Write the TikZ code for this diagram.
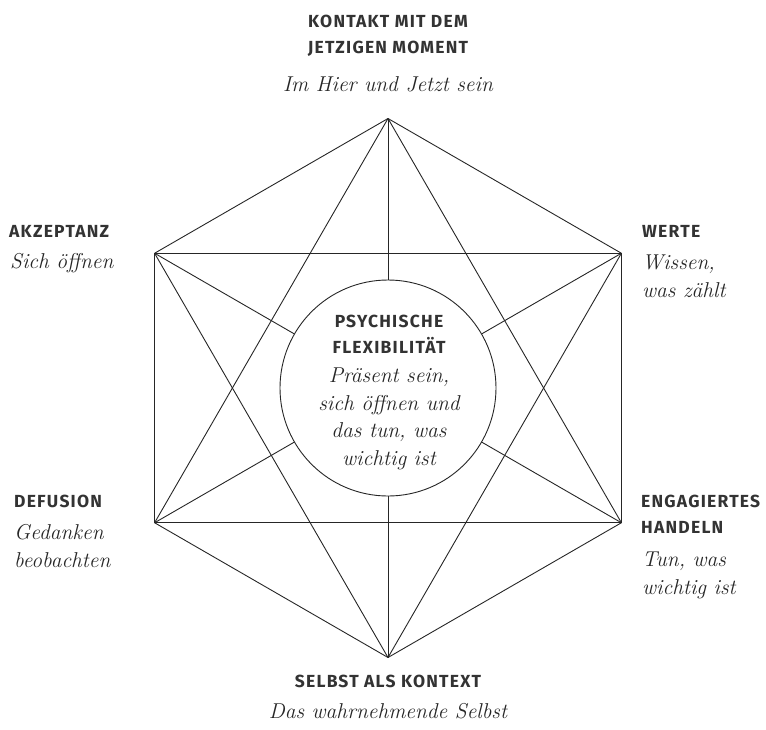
\documentclass[tikz,border=0pt]{standalone}
\usepackage{fontspec}
\newfontfamily\capsfont{Fira Sans}[LetterSpace=7]
\usetikzlibrary{calc,positioning}

\begin{document}
\begin{tikzpicture}[x=1pt, y=-1pt,
    edge/.style={line width=0.9pt, black!85},
    hub/.style={circle, draw=black!85, line width=0.9pt, fill=white,
                minimum size=216pt, inner sep=0pt},
    title/.style={font=\capsfont\bfseries\fontsize{17.5}{26}\selectfont,
                  inner sep=0pt, text=black!80},
    motto/.style={font=\itshape\fontsize{21.5}{27.5}\selectfont,
                  inner sep=0pt, text=black!85}]

  \useasboundingbox (0,0) rectangle (766,729);

  % centre and the six corners of the hexagon
  \coordinate (M) at (388,388);
  \foreach \n/\a in {jetzt/270, werte/330, handeln/30,
                     selbst/90, defusion/150, akzeptanz/210}
    \coordinate (\n) at ($(M)+(\a:269.5)$);

  % every corner joined to every other one
  \foreach \p/\q in {jetzt/werte, werte/handeln, handeln/selbst,
                     selbst/defusion, defusion/akzeptanz, akzeptanz/jetzt,
                     jetzt/handeln, handeln/defusion, defusion/jetzt,
                     werte/selbst, selbst/akzeptanz, akzeptanz/werte,
                     jetzt/selbst, werte/defusion, handeln/akzeptanz}
    \draw[edge] (\p) -- (\q);

  % the circle in the middle (base = last line)
  \node[hub] (kern) at (M) {};
  \node[title, align=center, anchor=base] (kernT) at (389,353)
    {PSYCHISCHE\\FLEXIBILITÄT};
  \node[motto, align=center, anchor=base] (kernM) at (389,465)
    {Präsent sein,\\sich öffnen und\\das tun, was\\wichtig ist};

  % top
  \node[title, align=center, anchor=base] (jetztT) at (388,53)
    {KONTAKT MIT DEM\\JETZIGEN MOMENT};
  \node[motto, anchor=base] (jetztM) at (388,91) {Im Hier und Jetzt sein};

  % left
  \node[title, anchor=base west] (akzeptanzT) at (9,237) {AKZEPTANZ};
  \node[motto, anchor=base west] (akzeptanzM) at (10,268) {Sich öffnen};
  \node[title, anchor=base west] (defusionT) at (14,507) {DEFUSION};
  \node[motto, align=left, anchor=base west] (defusionM) at (14,567)
    {Gedanken\\beobachten};

  % right
  \node[title, anchor=base west] (werteT) at (642,237) {WERTE};
  \node[motto, align=left, anchor=base west] (werteM) at (642,297)
    {Wissen,\\was zählt};
  \node[title, align=left, anchor=base west] (handelnT) at (641,533)
    {ENGAGIERTES\\HANDELN};
  \node[motto, align=left, anchor=base west] (handelnM) at (642,594)
    {Tun, was\\wichtig ist};

  % bottom
  \node[title, anchor=base] (selbstT) at (388,687) {SELBST ALS KONTEXT};
  \node[motto, anchor=base] (selbstM) at (388,718) {Das wahrnehmende Selbst};

\end{tikzpicture}
\end{document}
